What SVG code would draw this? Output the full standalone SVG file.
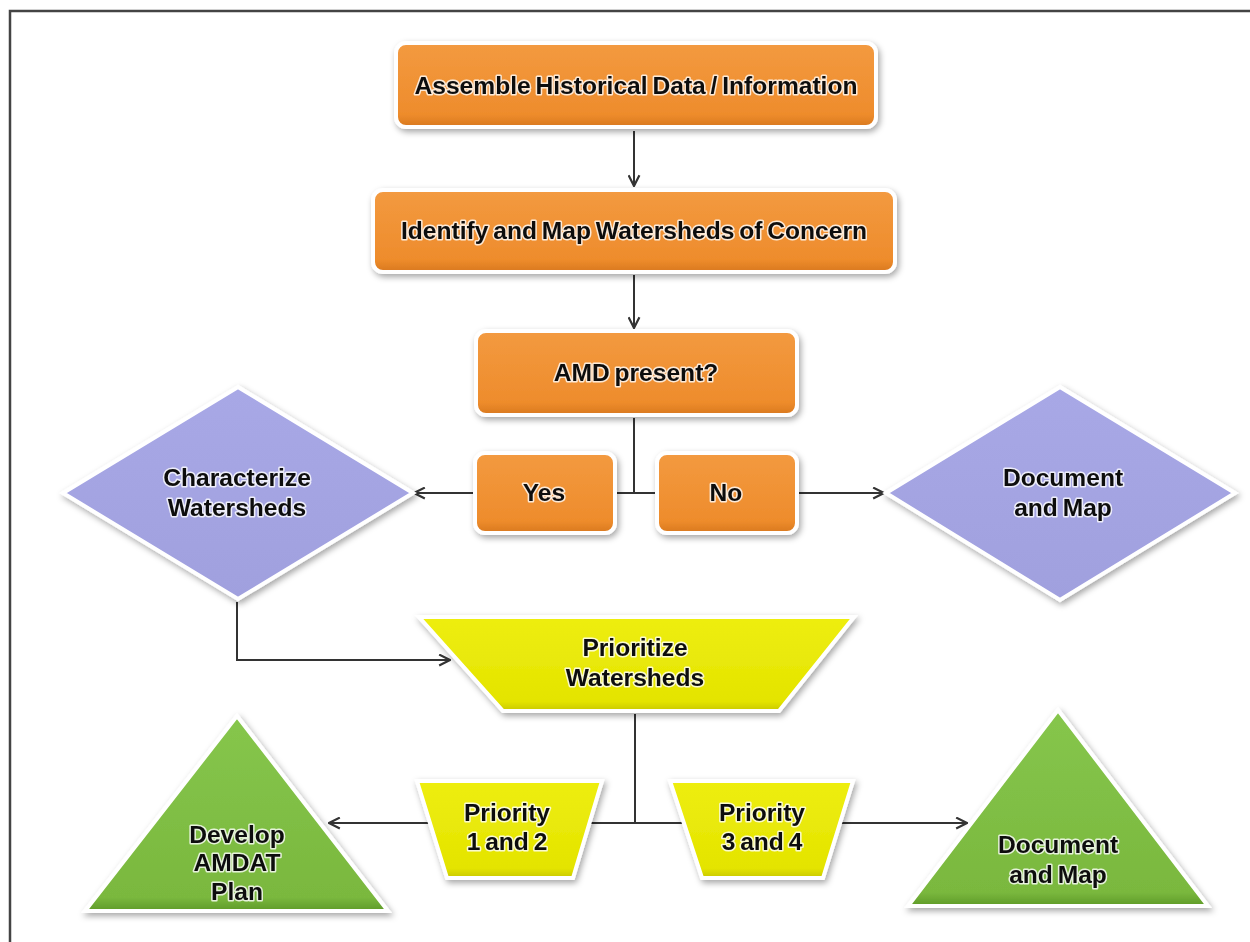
<svg xmlns="http://www.w3.org/2000/svg" width="1250" height="942" viewBox="0 0 1250 942">
<style>
.lbl{font-family:"Liberation Sans",Arial,sans-serif;font-weight:bold;font-size:24.6px;fill:#111;text-anchor:middle;word-spacing:-2px;paint-order:stroke;stroke:#fff;stroke-opacity:0.8;stroke-width:3px;stroke-linejoin:round}
.orange{fill:url(#gOr);stroke:#fff;stroke-width:4}
.purple{fill:url(#gPu);stroke:#fff;stroke-width:4}
.yellow{fill:url(#gYe);stroke:#fff;stroke-width:4}
.green{fill:url(#gGr);stroke:#fff;stroke-width:4}
.con{fill:none;stroke:#333;stroke-width:2}
</style>
<defs>
<linearGradient id="gOr" x1="0" y1="0" x2="0" y2="1"><stop offset="0" stop-color="#F39A40"/><stop offset="0.85" stop-color="#EE8C2C"/><stop offset="1" stop-color="#D8781E"/></linearGradient>
<linearGradient id="gPu" x1="0" y1="0" x2="0" y2="1"><stop offset="0" stop-color="#A8A8E6"/><stop offset="1" stop-color="#A0A0DE"/></linearGradient>
<linearGradient id="gYe" x1="0" y1="0" x2="0" y2="1"><stop offset="0" stop-color="#EEEE10"/><stop offset="0.9" stop-color="#E4E400"/><stop offset="1" stop-color="#C8C800"/></linearGradient>
<linearGradient id="gGr" x1="0" y1="0" x2="0" y2="1"><stop offset="0" stop-color="#86C64C"/><stop offset="0.93" stop-color="#7AB83E"/><stop offset="1" stop-color="#5E9A28"/></linearGradient>
<filter id="sh" x="-10%" y="-10%" width="125%" height="130%"><feDropShadow dx="2" dy="3" stdDeviation="3" flood-color="#000" flood-opacity="0.35"/></filter>
<marker id="arr" viewBox="0 0 12 12" refX="11" refY="6" markerWidth="13" markerHeight="13" markerUnits="userSpaceOnUse" orient="auto"><path d="M1,1 L11,6 L1,11" fill="none" stroke="#333" stroke-width="2"/></marker>
</defs>
<rect width="1250" height="942" fill="#fff"/>
<g id="frame"><path d="M10,942 V11 H1250" fill="none" stroke="#444" stroke-width="2.5"/></g>

<g id="connectors">
<line class="con" x1="634" y1="131" x2="634" y2="186" marker-end="url(#arr)"/>
<line class="con" x1="634" y1="275" x2="634" y2="328" marker-end="url(#arr)"/>
<polyline class="con" points="634,418 634,493 615,493"/>
<line class="con" x1="615" y1="493" x2="657" y2="493"/>
<line class="con" x1="475" y1="493" x2="414" y2="493" marker-end="url(#arr)"/>
<line class="con" x1="797" y1="493" x2="884" y2="493" marker-end="url(#arr)"/>
<polyline class="con" points="237,602 237,660 450,660" marker-end="url(#arr)"/>
<line class="con" x1="635" y1="714" x2="635" y2="823"/>
<line class="con" x1="635" y1="823" x2="329" y2="823" marker-end="url(#arr)"/>
<line class="con" x1="635" y1="823" x2="967" y2="823" marker-end="url(#arr)"/>
</g>

<g id="n1" filter="url(#sh)"><rect class="orange" x="396" y="43" width="480" height="84" rx="10"/><text class="lbl" x="636" y="94">Assemble Historical Data / Information</text></g>
<g id="n2" filter="url(#sh)"><rect class="orange" x="373" y="190" width="522" height="82" rx="10"/><text class="lbl" x="634" y="239">Identify and Map Watersheds of Concern</text></g>
<g id="n3" filter="url(#sh)"><rect class="orange" x="476" y="331" width="321" height="84" rx="10"/><text class="lbl" x="636" y="381">AMD present?</text></g>
<g id="yes" filter="url(#sh)"><rect class="orange" x="475" y="453" width="140" height="80" rx="10"/><text class="lbl" x="544" y="501">Yes</text></g>
<g id="no" filter="url(#sh)"><rect class="orange" x="657" y="453" width="140" height="80" rx="10"/><text class="lbl" x="726" y="501">No</text></g>

<g id="characterize" filter="url(#sh)"><polygon class="purple" points="238,387 413,493 238,599 63,493"/><text class="lbl" x="237" y="486">Characterize</text><text class="lbl" x="237" y="516">Watersheds</text></g>
<g id="docmap1" filter="url(#sh)"><polygon class="purple" points="1060,387 1235,493 1060,600 886,493"/><text class="lbl" x="1063" y="486">Document</text><text class="lbl" x="1063" y="516">and Map</text></g>

<g id="prioritize" filter="url(#sh)"><polygon class="yellow" points="419,617 854,617 779,711 503,711"/><text class="lbl" x="635" y="656">Prioritize</text><text class="lbl" x="635" y="686">Watersheds</text></g>
<g id="p12" filter="url(#sh)"><polygon class="yellow" points="417,781 602,781 573,878 447,878"/><text class="lbl" x="507" y="821">Priority</text><text class="lbl" x="507" y="850">1 and 2</text></g>
<g id="p34" filter="url(#sh)"><polygon class="yellow" points="670,781 853,781 823,878 702,878"/><text class="lbl" x="762" y="821">Priority</text><text class="lbl" x="762" y="850">3 and 4</text></g>

<g id="develop" filter="url(#sh)"><polygon class="green" points="237,716 388,911 85,911"/><text class="lbl" x="237" y="843">Develop</text><text class="lbl" x="237" y="871">AMDAT</text><text class="lbl" x="237" y="900">Plan</text></g>
<g id="docmap2" filter="url(#sh)"><polygon class="green" points="1058,710 1208,906 908,906"/><text class="lbl" x="1058" y="853">Document</text><text class="lbl" x="1058" y="883">and Map</text></g>
</svg>
